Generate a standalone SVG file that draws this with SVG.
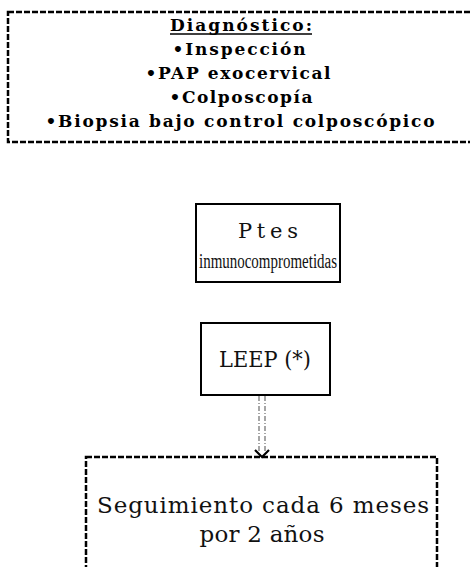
<svg xmlns="http://www.w3.org/2000/svg" width="470" height="567" viewBox="0 0 470 567">
<style>
.dash{fill:#fff;stroke:#000;stroke-width:2.5;stroke-dasharray:6 2}
.solid{fill:#fff;stroke:#000;stroke-width:2}
.b{font-family:"DejaVu Serif",serif;font-weight:bold;font-size:17px;fill:#000;text-anchor:middle}
.r{font-family:"DejaVu Serif",serif;font-size:21px;fill:#111;text-anchor:middle}
.big{font-size:23px}
.narrow{font-family:"Liberation Serif",serif;font-size:20px}
.conn{stroke:#777;stroke-width:1.3;stroke-dasharray:5 2 1 2;fill:none}
</style>
<rect width="470" height="567" fill="#fff"/>
<g id="diagnostico">
<rect class="dash" x="8" y="12" width="480" height="130"/>
<text class="b" x="241" y="31" textLength="142" lengthAdjust="spacing">Diagnóstico:</text>
<line x1="170" y1="34" x2="312" y2="34" stroke="#000" stroke-width="1.5"/>
<text class="b" x="239" y="55" textLength="133" lengthAdjust="spacing">•Inspección</text>
<text class="b" x="238" y="79" textLength="185" lengthAdjust="spacing">•PAP exocervical</text>
<text class="b" x="241" y="103" textLength="143" lengthAdjust="spacing">•Colposcopía</text>
<text class="b" x="240" y="127" textLength="389" lengthAdjust="spacing">•Biopsia bajo control colposcópico</text>
</g>
<g id="ptes">
<rect class="solid" x="196" y="204" width="144" height="78"/>
<text class="r" x="268" y="238" textLength="60" lengthAdjust="spacing">Ptes</text>
<text class="r narrow" x="268" y="268" textLength="138" lengthAdjust="spacingAndGlyphs">inmunocomprometidas</text>
</g>
<g id="leep">
<rect class="solid" x="201" y="323" width="129" height="72"/>
<text class="r big" x="265" y="367" textLength="92" lengthAdjust="spacingAndGlyphs">LEEP (*)</text>
</g>
<g id="connectors">
<line class="conn" x1="259" y1="396" x2="259" y2="452"/>
<line class="conn" x1="265" y1="396" x2="265" y2="452"/>
</g>
<g id="seguimiento">
<rect class="dash" x="86" y="457" width="351" height="130"/>
<text class="r big" x="263" y="513" textLength="332" lengthAdjust="spacing">Seguimiento cada 6 meses</text>
<text class="r big" x="262" y="542" textLength="125" lengthAdjust="spacing">por 2 años</text>
</g>
<path d="M255 450 L262 457 L269 450" fill="none" stroke="#000" stroke-width="2.2"/>
</svg>
